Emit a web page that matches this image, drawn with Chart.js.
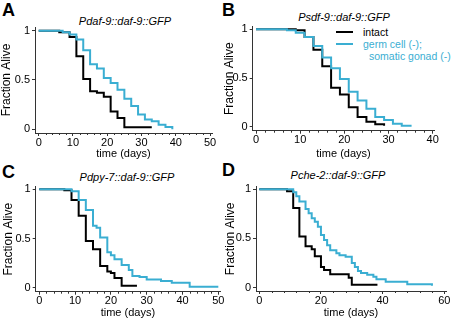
<!DOCTYPE html>
<html>
<head>
<meta charset="utf-8">
<script src="https://cdn.jsdelivr.net/npm/chart.js@4/dist/chart.umd.min.js"></script>
<style>
body { margin: 0; background: #fff; width: 452px; height: 319px; overflow: hidden; position: relative; font-family: "Liberation Sans", Arial, sans-serif; }
.pane { position: absolute; }
.letter { position: absolute; font-weight: bold; font-size: 18px; line-height: 18px; }
.ttl { position: absolute; font-style: italic; font-size: 11px; line-height: 12px; white-space: nowrap; transform: translateX(-50%); }
.leg { position: absolute; font-size: 10.5px; line-height: 12px; white-space: nowrap; }
.sw { position: absolute; height: 2px; width: 17px; }
</style>
</head>
<body>
<div class="letter" style="left:2px;top:1px">A</div>
<div class="letter" style="left:222px;top:1px">B</div>
<div class="letter" style="left:2px;top:163px">C</div>
<div class="letter" style="left:222px;top:161px">D</div>

<div class="ttl" style="left:125px;top:15px">Pdaf-9::daf-9::GFP</div>
<div class="ttl" style="left:344px;top:11px">Psdf-9::daf-9::GFP</div>
<div class="ttl" style="left:127px;top:171px">Pdpy-7::daf-9::GFP</div>
<div class="ttl" style="left:338px;top:169px">Pche-2::daf-9::GFP</div>

<div class="sw" style="left:336px;top:31px;background:#000"></div>
<div class="leg" style="left:363px;top:26px;color:#000">intact</div>
<div class="sw" style="left:336px;top:43px;background:#3aaed2"></div>
<div class="leg" style="left:363px;top:38px;color:#3aaed2">germ cell (-);</div>
<div class="leg" style="left:369px;top:50px;color:#3aaed2">somatic gonad (-)</div>

<div class="pane" style="left:0px;top:0px"><canvas id="chartA" width="226" height="160"></canvas></div>
<div class="pane" style="left:218px;top:0px"><canvas id="chartB" width="234" height="160"></canvas></div>
<div class="pane" style="left:0px;top:160px"><canvas id="chartC" width="226" height="159"></canvas></div>
<div class="pane" style="left:218px;top:160px"><canvas id="chartD" width="234" height="159"></canvas></div>

<script>
// survival curves: day of each step, fraction alive after it
const intactDaysA = [0, 6, 9, 11, 13, 15, 17, 19, 21, 23, 25, 33];
const intactSurvA = [1, 0.985, 0.935, 0.74, 0.51, 0.385, 0.37, 0.33, 0.18, 0.115, 0.02, 0.02];
const gonadDaysA = [0, 7, 9, 11, 13, 15, 17, 19, 21, 23, 25, 27, 29, 31, 33, 35, 37, 39];
const gonadSurvA = [1, 0.985, 0.96, 0.91, 0.80, 0.66, 0.615, 0.52, 0.47, 0.40, 0.31, 0.235, 0.15, 0.10, 0.08, 0.045, 0.022, 0];

const intactDaysB = [0, 9, 11, 13, 15, 17, 19, 21, 23, 25, 27, 29];
const intactSurvB = [1, 0.99, 0.92, 0.79, 0.62, 0.40, 0.33, 0.20, 0.10, 0.05, 0.025, 0.01];
const gonadDaysB = [0, 7, 9, 11, 13, 15, 17, 19, 21, 23, 25, 27, 29, 31, 33, 35];
const gonadSurvB = [1, 0.99, 0.965, 0.92, 0.83, 0.71, 0.60, 0.49, 0.36, 0.27, 0.185, 0.10, 0.068, 0.03, 0.01, 0];

const intactDaysC = [0, 7, 9, 11, 13, 15, 17, 19, 20, 21, 23, 27];
const intactSurvC = [1, 0.99, 0.89, 0.73, 0.475, 0.39, 0.22, 0.165, 0.15, 0.10, 0.02, 0.01];
const gonadDaysC = [0, 9, 11, 13, 15, 16, 17, 19, 20, 21, 23, 25, 26, 28, 30, 34, 37, 42, 50];
const gonadSurvC = [1, 0.98, 0.89, 0.79, 0.63, 0.61, 0.51, 0.36, 0.33, 0.29, 0.23, 0.18, 0.12, 0.11, 0.085, 0.068, 0.05, 0.01, 0.01];

const intactDaysD = [0, 9, 11, 13, 15, 17, 18, 20, 21, 23, 29, 30, 38];
const intactSurvD = [1, 0.98, 0.81, 0.52, 0.42, 0.39, 0.32, 0.21, 0.18, 0.135, 0.10, 0.03, 0.02];
const gonadDaysD = [0, 11, 12, 13, 15, 16, 17, 18, 19, 20, 21, 22, 23, 25, 26, 28, 30, 31, 32, 33, 35, 37, 38, 41, 48, 56];
const gonadSurvD = [1, 0.97, 0.93, 0.875, 0.80, 0.755, 0.705, 0.67, 0.62, 0.535, 0.485, 0.43, 0.38, 0.35, 0.33, 0.315, 0.25, 0.21, 0.17, 0.15, 0.13, 0.11, 0.085, 0.06, 0.035, 0.02];

const xTicks50 = [0, 10, 20, 30, 40, 50];
const xTicks40 = [0, 10, 20, 30, 40];
const xTicks60 = [0, 20, 40, 60];
const yTicks = [0, 0.5, 1];

const BLACK = '#000000';
const CYAN = '#3aaed2';

Chart.defaults.font.family = '"Liberation Sans", Arial, sans-serif';
Chart.defaults.color = '#000';

function pts(days, surv) {
    return days.map((d, i) => ({ x: d, y: surv[i] }));
}

// short minor ticks under the x axis
const minorTicks = {
    id: 'minorTicks',
    afterDraw(chart, args, opts) {
        const sx = chart.scales.x;
        const ctx = chart.ctx;
        const y0 = chart.chartArea.bottom;
        ctx.save();
        ctx.strokeStyle = '#333';
        ctx.lineWidth = 1;
        for (let v = 0; v <= opts.max; v += opts.step) {
            if (opts.major.includes(v)) continue;
            const px = Math.round(sx.getPixelForValue(v)) + 0.5;
            ctx.beginPath();
            ctx.moveTo(px, y0);
            ctx.lineTo(px, y0 + 2);
            ctx.stroke();
        }
        ctx.restore();
    }
};

function makePanel(id, p) {
    const w = p.w, h = p.h;
    return new Chart(document.getElementById(id), {
        type: 'line',
        data: {
            datasets: [
                { label: 'germ cell (-); somatic gonad (-)', data: pts(p.gonadDays, p.gonadSurv), borderColor: CYAN },
                { label: 'intact', data: pts(p.intactDays, p.intactSurv), borderColor: BLACK }
            ]
        },
        options: {
            responsive: false,
            animation: false,
            devicePixelRatio: 1,
            layout: { padding: { top: p.area.t, right: w - p.area.r, bottom: 0, left: 0 } },
            elements: {
                line: { stepped: true, borderWidth: 2, tension: 0, fill: false },
                point: { radius: 0 }
            },
            plugins: {
                legend: { display: false },
                tooltip: { enabled: false },
                minorTicks: { step: p.minor, max: p.xTicks[p.xTicks.length - 1], major: p.xTicks }
            },
            scales: {
                x: {
                    type: 'linear',
                    min: p.xMin, max: p.xMax,
                    afterBuildTicks: s => { s.ticks = p.xTicks.map(v => ({ value: v })); },
                    afterFit: s => { s.height = h - p.area.b; s.paddingLeft = 0; s.paddingRight = 0; },
                    grid: { drawOnChartArea: false, drawTicks: true, tickLength: 3, color: '#333' },
                    border: { display: true, color: '#333', width: 1 },
                    ticks: { padding: 0, font: { size: 11 }, maxRotation: 0, autoSkip: false, callback: v => String(v) },
                    title: { display: true, text: 'time (days)', font: { size: 11, lineHeight: 1 }, padding: { top: 0, bottom: 1 } }
                },
                y: {
                    type: 'linear',
                    min: p.yMin, max: p.yMax,
                    afterBuildTicks: s => { s.ticks = yTicks.map(v => ({ value: v })); },
                    afterFit: s => { s.width = p.area.l; s.paddingTop = 0; s.paddingBottom = 0; },
                    grid: { drawOnChartArea: false, drawTicks: true, tickLength: 3, color: '#333' },
                    border: { display: true, color: '#333', width: 1 },
                    ticks: { padding: 2, font: { size: 11 }, callback: v => String(v) },
                    title: { display: true, text: 'Fraction Alive', font: { size: 12, lineHeight: 1 }, padding: { top: p.titlePad, bottom: 0 } }
                }
            }
        },
        plugins: [minorTicks]
    });
}

makePanel('chartA', {
    w: 226, h: 160, area: { l: 35, t: 27, r: 212, b: 133 },
    xMin: -1.08, xMax: 50.58, yMin: -0.038, yMax: 1.037, titlePad: 1,
    xTicks: xTicks50, minor: 2,
    intactDays: intactDaysA, intactSurv: intactSurvA, gonadDays: gonadDaysA, gonadSurv: gonadSurvA
});
makePanel('chartB', {
    w: 234, h: 160, area: { l: 34.7, t: 26.7, r: 216.3, b: 130.7 },
    xMin: -0.75, xMax: 40.37, yMin: -0.041, yMax: 1.027, titlePad: 5.5,
    xTicks: xTicks40, minor: 2,
    intactDays: intactDaysB, intactSurv: intactSurvB, gonadDays: gonadDaysB, gonadSurv: gonadSurvB
});
makePanel('chartC', {
    w: 226, h: 159, area: { l: 35.7, t: 26.7, r: 220, b: 131.7 },
    xMin: -1.0, xMax: 50.47, yMin: -0.04, yMax: 1.026, titlePad: 3,
    xTicks: xTicks50, minor: 2,
    intactDays: intactDaysC, intactSurv: intactSurvC, gonadDays: gonadDaysC, gonadSurv: gonadSurvC
});
makePanel('chartD', {
    w: 234, h: 159, area: { l: 38, t: 26.7, r: 228, b: 131 },
    xMin: -1.07, xMax: 60.56, yMin: -0.034, yMax: 1.026, titlePad: 7,
    xTicks: xTicks60, minor: 4,
    intactDays: intactDaysD, intactSurv: intactSurvD, gonadDays: gonadDaysD, gonadSurv: gonadSurvD
});
</script>
</body>
</html>
